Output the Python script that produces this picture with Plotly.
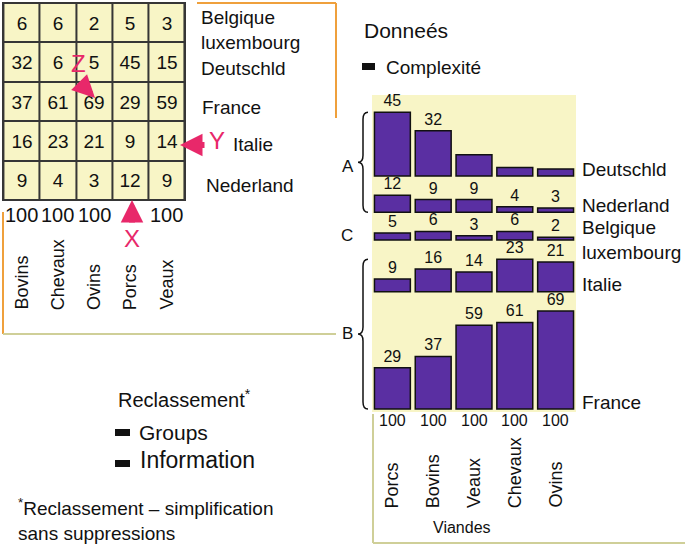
import plotly.graph_objects as go

# ---- data -----------------------------------------------------------------
viandes = ["Bovins", "Chevaux", "Ovins", "Porcs", "Veaux"]
pays = ["Belgique luxembourg", "Deutschld", "France", "Italie", "Nederland"]

belgique_lux = [6, 6, 2, 5, 3]
deutschld = [32, 6, 5, 45, 15]
france = [37, 61, 69, 29, 59]
italie = [16, 23, 21, 9, 14]
nederland = [9, 4, 3, 12, 9]

# order after reclassement (bar panel)
viandes_tri = ["Porcs", "Bovins", "Veaux", "Chevaux", "Ovins"]
pays_tri = ["Deutschld", "Nederland", "Belgique luxembourg", "Italie", "France"]
# the three small Deutschld bars carry no value label
deutschld_etiquettes = ["45", "32", " ", " ", " "]

table = dict(zip(pays, [belgique_lux, deutschld, france, italie, nederland]))

# ---- style ----------------------------------------------------------------
W, H = 685, 546
FONT = "Liberation Sans, Arial, Helvetica, sans-serif"
INK = "#111111"
YELLOW = "#F8F5C6"
PURPLE = "#5A2FA2"
GRID = "#363636"
PINK = "#E8286A"
ORANGE = "#EFA03C"
OLIVE = "#CFCF98"


def px(x):
    return x / W


def py(y):
    return 1 - y / H


fig = go.Figure()

# left: the data table
fig.add_trace(
    go.Heatmap(
        z=[table[p] for p in pays],
        x=viandes,
        y=pays,
        colorscale=[[0, YELLOW], [1, YELLOW]],
        showscale=False,
        xgap=2,
        ygap=2,
        texttemplate="%{z}",
        textfont=dict(size=19, color=INK, family=FONT),
        hoverinfo="skip",
        xaxis="x",
        yaxis="y",
    )
)

# right: reclassed bars, one band per country stacked from the bottom
gap = 13.5
bases = {}
b = 0
for p in reversed(pays_tri):
    bases[p] = b
    b += max(table[p]) + gap

for p in pays_tri:
    vals = [table[p][viandes.index(v)] for v in viandes_tri]
    labels = deutschld_etiquettes if p == "Deutschld" else [str(v) for v in vals]
    fig.add_trace(
        go.Bar(
            x=viandes_tri,
            y=vals,
            base=[bases[p]] * len(vals),
            marker=dict(color=PURPLE, line=dict(color=INK, width=1.5)),
            text=labels,
            textposition="outside",
            textfont=dict(size=16, color=INK, family=FONT),
            cliponaxis=False,
            width=0.88,
            showlegend=False,
            hoverinfo="skip",
            xaxis="x2",
            yaxis="y2",
        )
    )

ann = []


def txt(text, x, y, size=19, xanchor="left", yanchor="middle", **kw):
    d = dict(
        text=text, x=x, y=y, showarrow=False, xanchor=xanchor, yanchor=yanchor,
        font=dict(size=size, color=kw.pop("color", INK), family=FONT),
    )
    d.setdefault("xref", "paper")
    d.setdefault("yref", "paper")
    d.update(kw)
    ann.append(d)


# table row labels
txt("Belgique<br>luxembourg", px(199), py(30), align="left")
txt("Deutschld", px(199), py(68))
txt("France", px(200), py(108))
txt("Italie", px(231), py(145))
txt("Nederland", px(204), py(185))

# table column totals and names
for i, v in enumerate(viandes):
    total = sum(table[p][i] for p in pays)
    if v != "Porcs":  # hidden behind the X arrow
        txt(str(total), v, py(215), xref="x", xanchor="center", size=20)
    txt(v, v, py(312), xref="x", xanchor="center", yanchor="bottom",
        textangle=-90, size=18)

# bar panel: row labels
for p in pays_tri:
    if p == "Belgique luxembourg":
        txt("Belgique<br>luxembourg", px(580), bases[p], yref="y2", align="left")
    else:
        txt(p, px(580), bases[p], yref="y2", yshift=7)

# bar panel: totals and names
for v in viandes_tri:
    total = sum(table[p][viandes.index(v)] for p in pays)
    txt(str(total), v, py(420), xref="x2", xanchor="center", size=16)
    txt(v, v, py(510), xref="x2", xanchor="center", yanchor="bottom",
        textangle=-90, size=18)
txt("Viandes", px(462), py(527), xanchor="center", size=16)

# group letters next to the braces
txt("A", px(348), py(166), xanchor="center", size=17)
txt("C", px(347), py(235), xanchor="center", size=17)
txt("B", px(347), py(333), xanchor="center", size=17)

# headings / legend texts
txt("Donneés", px(362), py(30), size=21)
txt("Complexité", px(384), py(67), size=19)
txt("Reclassement<sup>*</sup>", px(116), py(398), size=20)
txt("Groups", px(137), py(432), size=21)
txt("Information", px(138), py(460), size=23)
txt("<sup>*</sup>Reclassement – simplification<br>sans suppressions",
    px(16), py(519), size=19, align="left")

# X / Y / Z markers and arrows
txt("Z", px(78), py(63), xanchor="center", size=24, color=PINK)
txt("Y", px(217), py(141), xanchor="center", size=24, color=PINK)
txt("X", px(132), py(238), xanchor="center", size=24, color=PINK)
for hx, hy, ax, ay in [(95, 98, -17, -17), (180, 145, 26, 0), (132, 200, 0, 24)]:
    ann.append(dict(
        x=px(hx), y=py(hy), xref="paper", yref="paper", ax=ax, ay=ay, text="",
        showarrow=True, arrowhead=2, arrowsize=0.75, arrowwidth=6,
        arrowcolor=PINK, standoff=0,
    ))

shapes = [
    # table grid colour behind the cells
    dict(type="rect", xref="x domain", yref="y domain", x0=0, x1=1, y0=0, y1=1,
         fillcolor=GRID, line=dict(color=GRID, width=2), layer="below"),
    # yellow panel behind the bars
    dict(type="rect", xref="x2 domain", yref="y2 domain", x0=0, x1=1, y0=0, y1=1,
         fillcolor=YELLOW, line=dict(width=0), layer="below"),
    # frame lines
    dict(type="line", xref="paper", yref="paper", x0=px(197), x1=px(336),
         y0=py(3), y1=py(3), line=dict(color=ORANGE, width=2)),
    dict(type="line", xref="paper", yref="paper", x0=px(336), x1=px(336),
         y0=py(3), y1=py(118), line=dict(color=ORANGE, width=2)),
    dict(type="line", xref="paper", yref="paper", x0=px(3), x1=px(3),
         y0=py(212), y1=py(334), line=dict(color=ORANGE, width=2)),
    dict(type="line", xref="paper", yref="paper", x0=px(3), x1=px(336),
         y0=py(334), y1=py(334), line=dict(color=OLIVE, width=2)),
    dict(type="line", xref="paper", yref="paper", x0=px(373), x1=px(373),
         y0=py(414), y1=py(543), line=dict(color=OLIVE, width=2)),
    dict(type="line", xref="paper", yref="paper", x0=px(373), x1=px(685),
         y0=py(543), y1=py(543), line=dict(color=OLIVE, width=2)),
    # legend marks
    dict(type="rect", xref="paper", yref="paper", x0=px(362), x1=px(375),
         y0=py(70), y1=py(63), fillcolor=INK, line=dict(width=0)),
    dict(type="rect", xref="paper", yref="paper", x0=px(115), x1=px(130),
         y0=py(436), y1=py(429), fillcolor=INK, line=dict(width=0)),
    dict(type="rect", xref="paper", yref="paper", x0=px(115), x1=px(130),
         y0=py(467), y1=py(460), fillcolor=INK, line=dict(width=0)),
]


# curly braces grouping the bar bands
def brace(ytop, ybot, r=5):
    x0, xm, xt = px(368), px(363), px(358)
    ym = (ytop + ybot) / 2
    path = (
        f"M {x0},{ytop} Q {xm},{ytop} {xm},{ytop - r} L {xm},{ym + r} "
        f"Q {xm},{ym} {xt},{ym} Q {xm},{ym} {xm},{ym - r} "
        f"L {xm},{ybot + r} Q {xm},{ybot} {x0},{ybot}"
    )
    return dict(type="path", xref="paper", yref="y2", path=path,
                line=dict(color=INK, width=1.5))


shapes.append(brace(bases["Deutschld"] + max(deutschld), bases["Nederland"]))
shapes.append(brace(bases["Italie"] + max(italie), bases["France"]))

fig.update_layout(
    width=W,
    height=H,
    margin=dict(l=0, r=0, t=0, b=0),
    paper_bgcolor="white",
    plot_bgcolor="rgba(0,0,0,0)",
    barmode="overlay",
    showlegend=False,
    font=dict(family=FONT, color=INK),
    xaxis=dict(domain=[px(3), px(185)], anchor="y", showticklabels=False,
               showgrid=False, zeroline=False, ticks=""),
    yaxis=dict(domain=[py(200), py(3)], anchor="x", autorange="reversed",
               showticklabels=False, showgrid=False, zeroline=False, ticks=""),
    xaxis2=dict(domain=[px(372), px(576)], anchor="y2", range=[-0.5, 4.5],
                showticklabels=False, showgrid=False, zeroline=False, ticks=""),
    yaxis2=dict(domain=[py(412), py(95)], anchor="x2", range=[-2.1, 221.1],
                showticklabels=False, showgrid=False, zeroline=False, ticks=""),
    annotations=ann,
    shapes=shapes,
)

# the page body has a default margin; drop it so the figure sits at 0,0
fig.write_html(
    "out.html",
    config={"displayModeBar": False},
    post_script="document.body.style.margin='0';",
)
